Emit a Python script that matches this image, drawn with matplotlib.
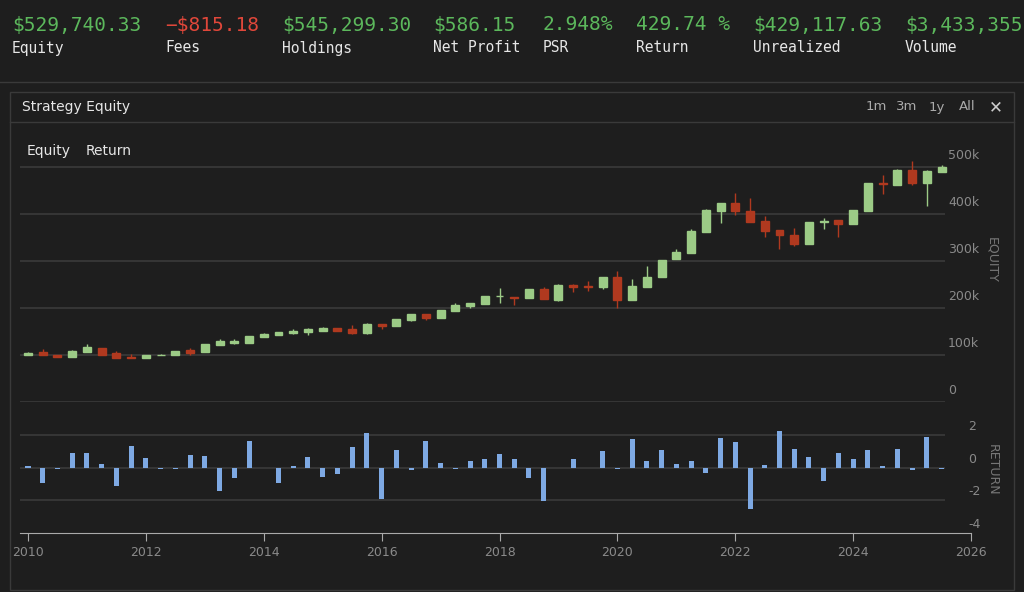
import matplotlib
matplotlib.use("Agg")
import matplotlib.pyplot as plt
import numpy as np
from matplotlib.patches import Rectangle

header_values = ["$529,740.33", "-$815.18", "$545,299.30", "$586.15", "2.948%", "429.74 %", "$429,117.63", "$3,433,355"]
header_labels = ["Equity", "Fees", "Holdings", "Net Profit", "PSR", "Return", "Unrealized", "Volume"]
header_x = [12, 165, 282, 433, 543, 636, 753, 905]

# quarterly candles (thousands of $)
opens = [99,106,100,96,106,114,104,96,94,99,99,110.6,106,122,125.5,126,138,143,147.5,150,152,157,155,147.5,166,162,175,187,178,194,204,208.5,225,
         222.9,221,241,216,249,246,244,267,216,245,266,304,317,362,407,423,406,385,366,356,336,383,387,378,406,465,461,493,466,489]
closes = [105,99,96,108,117,100,94,94,100,101,108,105,123,129,130,140,145,150,152,155,157,152,147.5,167,161,177,187,178,196,206,210,225,226,
          220.7,241,219,249,244,244,267,216,246,267,303,319,364,408,423,406,384,364,355,336,382,384,379,408,465,463,493,466,491,500]
highs = [106,112,100,110,124,114,108,103,100,103,108,115.6,123,134,134,140,147,150,155,158,160,157,164,169,166,177,187,187,196,210,210,225,243,
         223,241,244,251,252,257,267,279,261,289,303,326,368,410,423,444,434,396,366,371,382,392,387,408,465,484,496,512,493,505]
lows = [99,99,96,96,106,100,94,94,94,99,99,100,106,122,124,126,138,143,145,143,152,152,145,145,155,162,172,174,178,194,200,208.5,211,
        207,221,219,214,233,236,241,200,216,245,266,304,317,362,380,398,384,352,325,332,336,369,352,378,406,442,461,462,418,489]
returns = [0.1,-0.9,-0.05,0.92,0.92,0.23,-1.1,1.34,0.6,-0.07,-0.04,0.77,0.72,-1.4,-0.64,1.66,0,-0.9,0.15,0.65,-0.55,-0.35,1.3,2.15,-1.9,1.1,
           -0.15,1.66,0.3,-0.07,0.42,0.53,0.85,0.53,-0.64,-2.03,0,0.53,0,1.05,-0.07,1.8,0.45,1.1,0.22,0.42,-0.3,1.85,1.6,-2.5,0.2,2.3,1.15,
           0.65,-0.8,0.9,0.53,1.1,0.1,1.15,-0.15,1.9,-0.07]
dates = 2010 + 0.25 * np.arange(len(opens))
eq_ticks = [0, 100, 200, 300, 400, 500]
eq_tick_labels = ["0", "100k", "200k", "300k", "400k", "500k"]
ret_ticks = [2, 0, -2, -4]
year_ticks = [2010, 2012, 2014, 2016, 2018, 2020, 2022, 2024, 2026]

W, H = 1024, 592
BG = "#1e1e1e"
GRID = "#3a3a3a"
TXT = "#8a8a8a"
GREEN = "#9ccb86"
RED = "#b0391f"
BLUE = "#7ea9e3"

fig = plt.figure(figsize=(W/100, H/100), dpi=100, facecolor=BG)

def ax_px(l, t, r, b):
    return fig.add_axes([l/W, 1-b/H, (r-l)/W, (b-t)/H])

# header
for v, lab, x in zip(header_values, header_labels, header_x):
    col = "#e0473a" if v.startswith("-") else "#5cb85c"
    fig.text(x/W, 1-25/H, v.replace("-", "\u2212"), color=col, fontsize=14, family="DejaVu Sans Mono", va="center")
    fig.text(x/W, 1-48/H, lab, color="#e6e6e6", fontsize=10.5, family="DejaVu Sans Mono", va="center")
fig.add_artist(plt.Line2D([0, 1], [1-82/H, 1-82/H], color="#3a3a3a", lw=1))
# panel
fig.add_artist(Rectangle((10/W, 1-590/H), 1004/W, 498/H, fill=False, ec="#3a3a3a", lw=1))
fig.add_artist(plt.Line2D([10/W, 1014/W], [1-122/H, 1-122/H], color="#3a3a3a", lw=1))
fig.text(22/W, 1-107/H, "Strategy Equity", color="#e6e6e6", fontsize=10, va="center")
for s, x in [("1m", 866), ("3m", 896), ("1y", 929), ("All", 959)]:
    fig.text(x/W, 1-107/H, s, color="#aaaaaa", fontsize=9.5, va="center")
fig.text(996/W, 1-107/H, "\u2715", color="#cccccc", fontsize=12, va="center", ha="center")
fig.text(27/W, 1-151/H, "Equity", color="#e6e6e6", fontsize=10, va="center")
fig.text(86/W, 1-151/H, "Return", color="#e6e6e6", fontsize=10, va="center")

xmin = 2010 + (20-28)/58.94
xmax = 2010 + (975-28)/58.94
gx_end = 2010 + (945-28)/58.94

# equity axes
ax = ax_px(20, 160, 975, 402)
ax.set_facecolor("none")
ax.set_xlim(xmin, xmax)
ax.set_ylim(0, (402-160)/0.47)
for t in eq_ticks:
    ax.hlines(t, xmin, gx_end, color=GRID, lw=1.2, zorder=0)
for t, l in zip(eq_ticks, eq_tick_labels):
    ax.text(gx_end + 0.05, t + 10, l, color=TXT, fontsize=9, va="bottom", ha="left")
bw = 0.135
for d, o, c, h, lo in zip(dates, opens, closes, highs, lows):
    col = GREEN if c >= o else RED
    ax.vlines(d, lo, h, color=col, lw=1, zorder=2)
    ax.add_patch(Rectangle((d-bw/2, min(o, c)), bw, max(abs(c-o), 1.2), color=col, zorder=3))
ax.axis("off")
fig.text(992/W, 1-260/H, "EQUITY", color="#777777", fontsize=9, rotation=270, va="center", ha="center")

# return axes
ax2 = ax_px(20, 420, 975, 533)
ax2.set_facecolor("none")
ax2.set_xlim(xmin, xmax)
ax2.set_ylim(-4, (471-420)/17.3)
for t in ret_ticks[:-1]:
    ax2.hlines(t, xmin, gx_end, color=GRID, lw=1.2, zorder=0)
for t in ret_ticks:
    ax2.text(gx_end + 0.4, t + 0.15, str(t), color=TXT, fontsize=9, va="bottom", ha="left")
ax2.bar(dates, returns, width=0.085, color=BLUE, zorder=2)
for s in ["top", "right", "left"]:
    ax2.spines[s].set_visible(False)
ax2.spines["bottom"].set_color("#aaaaaa")
ax2.spines["bottom"].set_bounds(xmin, 2026)
ax2.set_yticks([])
ax2.set_xticks(year_ticks)
ax2.set_xticklabels([str(y) for y in year_ticks])
ax2.tick_params(axis="x", colors="#aaaaaa", labelcolor=TXT, labelsize=9, length=6)
fig.text(992/W, 1-470/H, "RETURN", color="#777777", fontsize=9, rotation=270, va="center", ha="center")

fig.savefig("out.png", dpi=100, facecolor=BG)
